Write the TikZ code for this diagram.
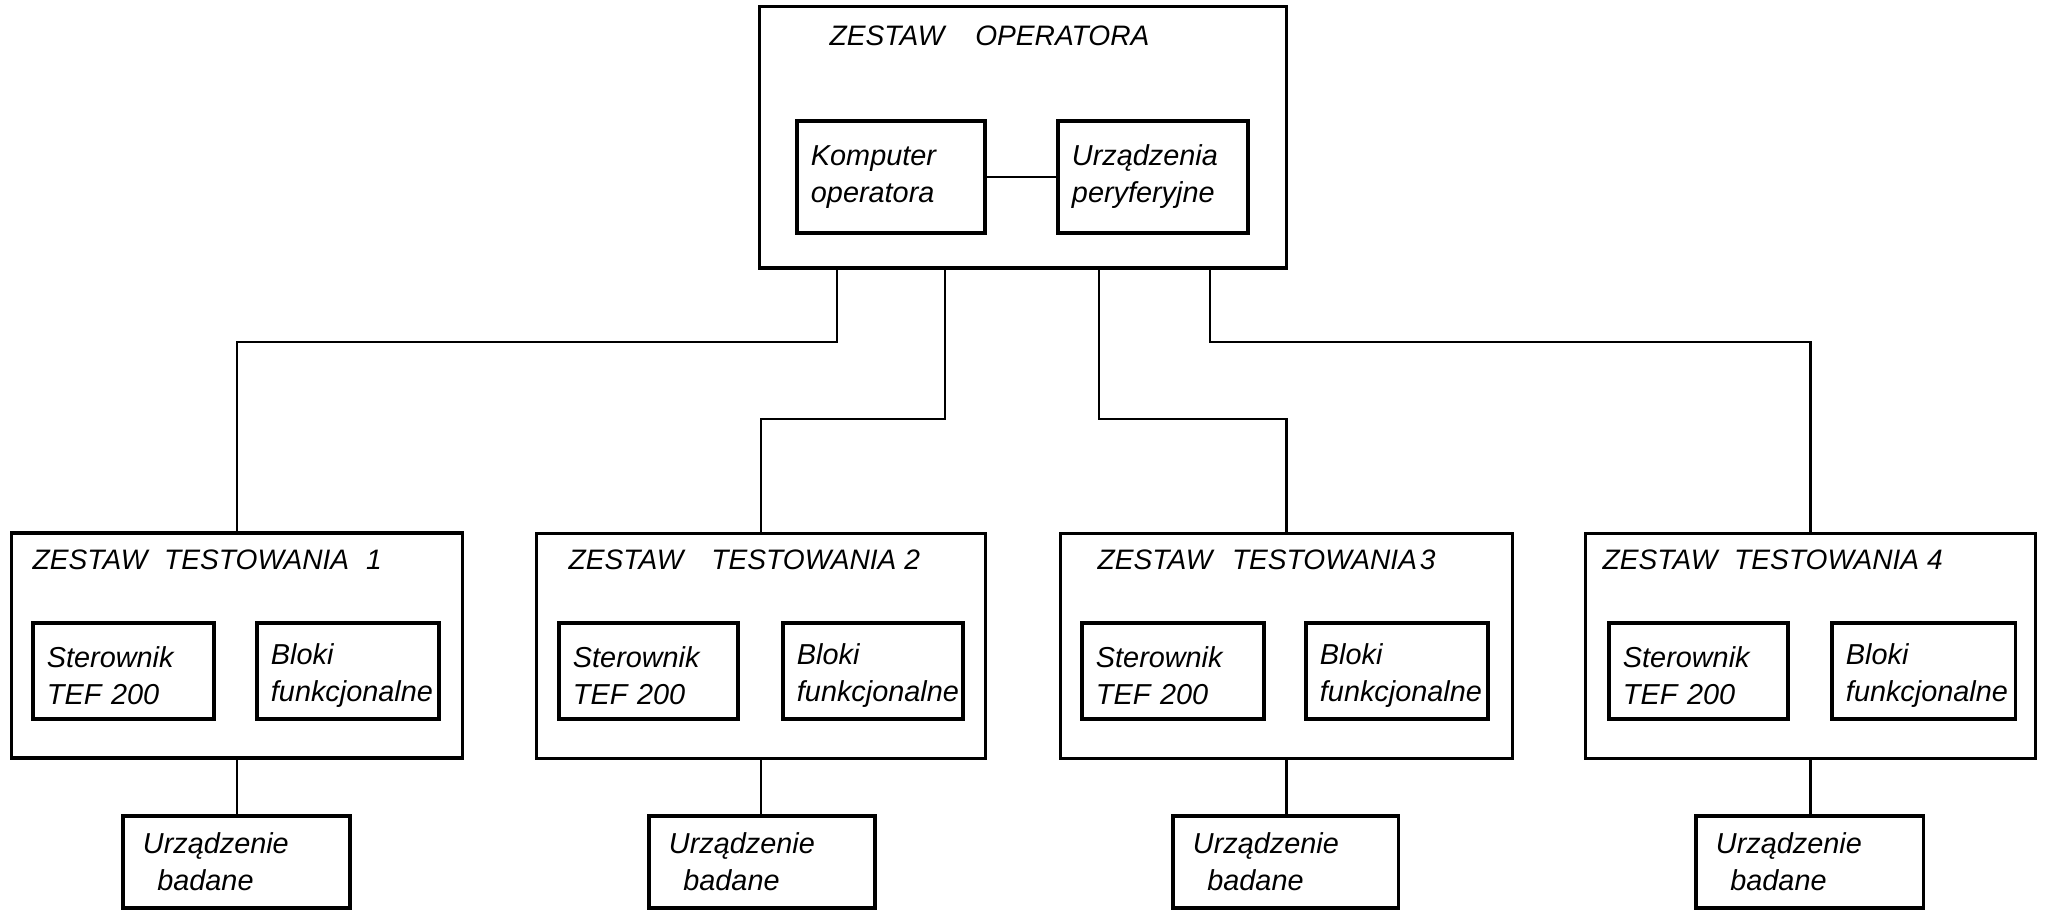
\documentclass[tikz,border=0pt]{standalone}
\usepackage{fontspec}
\setmainfont{Liberation Sans}
\newcommand{\topgap}[1]{\raisebox{0pt}[\dimexpr\height+0.09cm\relax]{#1}}
\begin{document}
\begin{tikzpicture}[x=0.01cm,y=-0.01cm,
  box/.style={draw,line width=0.9pt,rectangle,inner sep=0pt},
  inbox/.style={box,minimum height=0.96cm,align=left,inner xsep=0.14cm,
    font=\fontsize{8.2}{10.5}\selectfont\itshape},
  dutbox/.style={box,minimum height=0.92cm,align=left,inner xsep=0.2cm,
    font=\fontsize{8.2}{10.5}\selectfont\itshape},
  ttl/.style={anchor=base west,inner sep=0pt,font=\fontsize{8}{10}\selectfont\itshape},
  wire/.style={line width=0.6pt}]
\useasboundingbox (0,0) rectangle (2049,913);

% operator set
\node[box,minimum width=5.26cm,minimum height=2.61cm] (O) at (1023,137.5) {};
\node[ttl] (Ot) at (829,46) {ZESTAW\hspace{1.1em}OPERATORA};
\node[inbox,minimum width=1.88cm,minimum height=1.12cm,text width=1.6cm] (K) at (891,177) {Komputer\\operatora};
\node[inbox,minimum width=1.90cm,minimum height=1.12cm,text width=1.62cm] (U) at (1153,177) {Urządzenia\\peryferyjne};
\draw[wire] (K.east) -- (U.west);

% testing sets
\node[box,minimum width=4.50cm,minimum height=2.25cm] (T1) at (237,645.5) {};
\node[box,minimum width=4.48cm,minimum height=2.25cm] (T2) at (761,646) {};
\node[box,minimum width=4.51cm,minimum height=2.25cm] (T3) at (1286.5,646) {};
\node[box,minimum width=4.49cm,minimum height=2.25cm] (T4) at (1810.5,646) {};

\node[ttl] (T1t) at (32,570) {ZESTAW\hspace{0.6em}TESTOWANIA\hspace{0.6em}1};
\node[ttl] (T2t) at (568,570) {ZESTAW\hspace{1em}TESTOWANIA 2};
\node[ttl] (T3t) at (1097,570) {ZESTAW\hspace{0.7em}TESTOWANIA\hspace{0.1em}3};
\node[ttl] (T4t) at (1602,570) {ZESTAW\hspace{0.6em}TESTOWANIA 4};

\foreach \n/\sx/\sw/\bx/\bw in {1/123.5/1.81/348/1.82, 2/648.5/1.79/873/1.80, 3/1173/1.82/1397/1.82, 4/1698.5/1.79/1923.5/1.83}{
  \node[inbox,minimum width=\sw cm,text width=\sw cm-0.28cm] (S\n) at (\sx,671) {\topgap{Sterownik}\\TEF 200};
  \node[inbox,minimum width=\bw cm,text width=\bw cm-0.28cm] (B\n) at (\bx,671) {\topgap{Bloki}\\funkcjonalne};
}

% devices under test
\node[dutbox,minimum width=2.27cm,text width=1.87cm] (D1) at (236.5,862) {Urządzenie\\\hspace*{0.5em}badane};
\node[dutbox,minimum width=2.26cm,text width=1.86cm] (D2) at (762,862) {Urządzenie\\\hspace*{0.5em}badane};
\node[dutbox,minimum width=2.25cm,text width=1.85cm] (D3) at (1285.5,862) {Urządzenie\\\hspace*{0.5em}badane};
\node[dutbox,minimum width=2.27cm,text width=1.87cm] (D4) at (1809.5,862) {Urządzenie\\\hspace*{0.5em}badane};

% bus wiring
\coordinate (j1) at (837,342);
\coordinate (j2) at (945,419);
\coordinate (j3) at (1099,419);
\coordinate (j4) at (1210,342);
\draw[wire] (j1 |- O.south) -- (j1) -| (T1.north);
\draw[wire] (j2 |- O.south) -- (j2) -| (T2.north);
\draw[wire] (j3 |- O.south) -- (j3) -| (T3.north);
\draw[wire] (j4 |- O.south) -- (j4) -| (T4.north);

\foreach \n in {1,2,3,4}{
  \draw[wire] (T\n.south) -- (T\n.south |- D\n.north);
}
\end{tikzpicture}
\end{document}
